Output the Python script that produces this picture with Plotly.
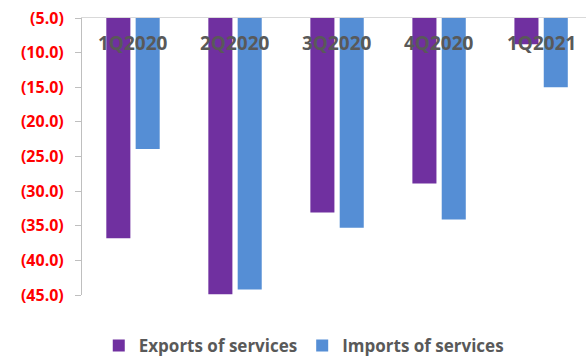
import plotly.graph_objects as go

categories = ["1Q2020", "2Q2020", "3Q2020", "4Q2020", "1Q2021"]
exports = [-36.8, -44.9, -33.1, -28.9, -8.8]
imports = [-23.9, -44.2, -35.3, -34.1, -15.0]
tick_vals = [-5, -10, -15, -20, -25, -30, -35, -40, -45]
tick_text = ["(5.0)", "(10.0)", "(15.0)", "(20.0)", "(25.0)", "(30.0)", "(35.0)", "(40.0)", "(45.0)"]

fig = go.Figure()
fig.add_trace(go.Bar(x=categories, y=exports, name="Exports of services",
                     marker=dict(color="#7030A0", line=dict(width=0))))
fig.add_trace(go.Bar(x=categories, y=imports, name="Imports of services",
                     marker=dict(color="#558ED5", line=dict(width=0))))

for c in categories:
    fig.add_annotation(x=c, xref="x", y=0.908, yref="paper", text=c, showarrow=False,
                       font=dict(family="Open Sans", size=19, color="#595959", weight="bold"),
                       xanchor="center", yanchor="middle")

fig.update_layout(
    width=586, height=364,
    margin=dict(l=82, r=0, t=18, b=65),
    plot_bgcolor="white", paper_bgcolor="white",
    barmode="group", bargap=0.425, bargroupgap=0.18,
    showlegend=True,
    legend=dict(orientation="h", x=0.44, xanchor="center", y=-0.185, yanchor="middle",
                font=dict(family="Open Sans", size=17, color="#595959", weight="bold"),
                itemwidth=30, traceorder="normal"),
    xaxis=dict(range=[-0.5, 4.44], showticklabels=False, showgrid=False,
               showline=True, linecolor="#d9d9d9", linewidth=1, side="top", ticks=""),
    yaxis=dict(range=[-45, -5], tickvals=tick_vals, ticktext=tick_text, showgrid=False,
               zeroline=False, showline=True, linecolor="#bfbfbf", linewidth=1,
               ticks="outside", ticklen=6, tickcolor="#bfbfbf", ticklabelstandoff=8,
               tickfont=dict(family="Open Sans", size=16, color="#ff0000", weight="bold")),
)

fig.write_html("out.html")
